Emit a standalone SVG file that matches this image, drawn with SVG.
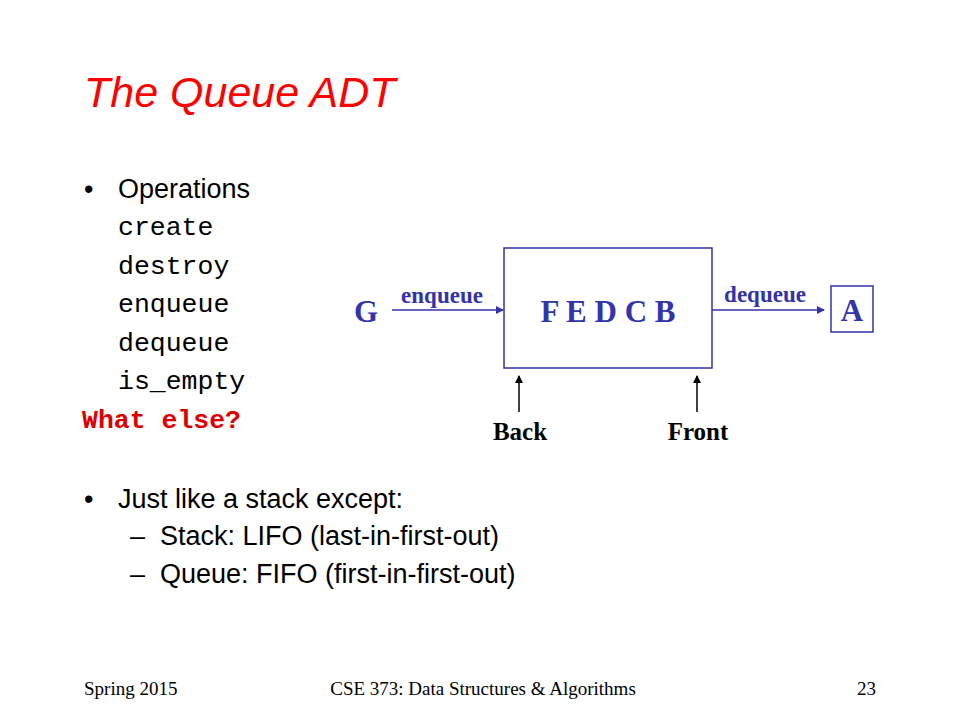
<svg xmlns="http://www.w3.org/2000/svg" width="960" height="720" viewBox="0 0 960 720">
<style>
.s{font-family:"Liberation Sans",Arial,sans-serif;font-size:27px;fill:#000}
.m{font-family:"Liberation Mono","Courier New",monospace;font-size:26.5px;fill:#000}
.b{font-family:"Liberation Serif","Times New Roman",serif;font-weight:bold;fill:#3333aa}
.f{font-family:"Liberation Serif","Times New Roman",serif;fill:#000}
</style>
<defs>
<marker id="ab" markerWidth="8" markerHeight="8" refX="7" refY="4" orient="auto" markerUnits="userSpaceOnUse"><path d="M0,0 L8,4 L0,8 z" fill="#3333aa"/></marker>
<marker id="ak" markerWidth="8" markerHeight="8" refX="7" refY="4" orient="auto" markerUnits="userSpaceOnUse"><path d="M0,0 L8,4 L0,8 z" fill="#000"/></marker>
</defs>
<rect width="960" height="720" fill="#fff"/>
<text x="84" y="107" font-family="Liberation Sans,Arial,sans-serif" font-size="43" font-style="italic" fill="#ff0000">The Queue ADT</text>
<text x="84" y="198" class="s">•</text>
<text x="118" y="198" class="s">Operations</text>
<text x="118" y="235" class="m">create</text>
<text x="118" y="274" class="m">destroy</text>
<text x="118" y="312" class="m">enqueue</text>
<text x="118" y="351" class="m">dequeue</text>
<text x="118" y="389" class="m">is_empty</text>
<text x="82" y="428" class="m" style="fill:#dd0000;font-weight:bold">What else?</text>
<text x="84" y="508" class="s">•</text>
<text x="118" y="508" class="s">Just like a stack except:</text>
<text x="130" y="545" class="s">–</text>
<text x="160" y="545" class="s">Stack: LIFO (last-in-first-out)</text>
<text x="130" y="583" class="s">–</text>
<text x="160" y="583" class="s">Queue: FIFO (first-in-first-out)</text>
<g id="queue"><rect x="504" y="248" width="208" height="120" fill="none" stroke="#3333aa" stroke-width="1.5"/><text x="608" y="322" text-anchor="middle" class="b" font-size="31">F E D C B</text></g>
<g id="G"><text x="366" y="322" text-anchor="middle" class="b" font-size="31">G</text></g>
<g id="A"><rect x="831" y="286" width="42" height="46" fill="none" stroke="#3333aa" stroke-width="1.5"/><text x="852" y="321" text-anchor="middle" class="b" font-size="31">A</text></g>
<g id="back"><text x="520" y="440" text-anchor="middle" class="f" font-weight="bold" font-size="25">Back</text></g>
<g id="front"><text x="698" y="440" text-anchor="middle" class="f" font-weight="bold" font-size="25">Front</text></g>
<g id="connectors">
<line x1="392" y1="310" x2="503" y2="310" stroke="#3333aa" stroke-width="1.5" marker-end="url(#ab)"/>
<text x="442" y="303" text-anchor="middle" class="b" font-size="23">enqueue</text>
<line x1="712" y1="310" x2="824" y2="310" stroke="#3333aa" stroke-width="1.5" marker-end="url(#ab)"/>
<text x="765" y="302" text-anchor="middle" class="b" font-size="23">dequeue</text>
<line x1="519" y1="412" x2="519" y2="376" stroke="#000" stroke-width="1.5" marker-end="url(#ak)"/>
<line x1="697" y1="412" x2="697" y2="376" stroke="#000" stroke-width="1.5" marker-end="url(#ak)"/>
</g>
<text x="84" y="695" class="f" font-size="19">Spring 2015</text>
<text x="483" y="695" text-anchor="middle" class="f" font-size="19">CSE 373: Data Structures &amp; Algorithms</text>
<text x="876" y="695" text-anchor="end" class="f" font-size="19">23</text>
</svg>
